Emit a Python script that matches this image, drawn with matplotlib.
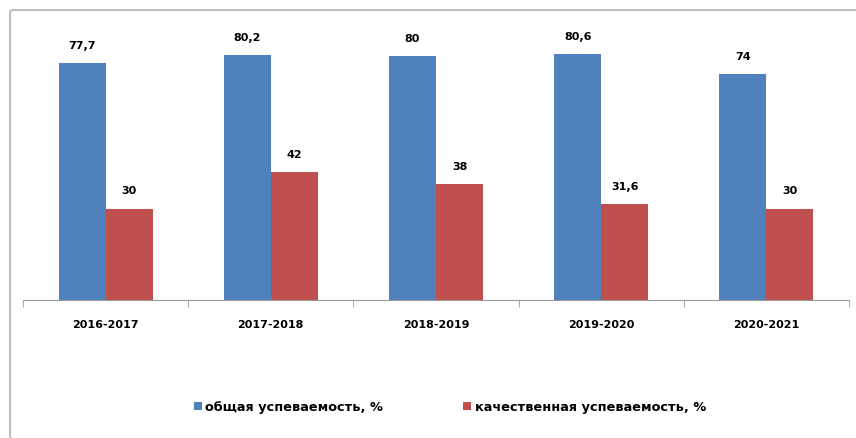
import numpy as np
import matplotlib.pyplot as plt
from matplotlib.patches import FancyBboxPatch

years = ["2016-2017", "2017-2018", "2018-2019", "2019-2020", "2020-2021"]
total = [77.7, 80.2, 80, 80.6, 74]
quality = [30, 42, 38, 31.6, 30]
total_labels = ["77,7", "80,2", "80", "80,6", "74"]
quality_labels = ["30", "42", "38", "31,6", "30"]
series_names = ["общая успеваемость, %", "качественная успеваемость, %"]

blue = "#4f81bd"
red = "#c0504d"

fig = plt.figure(figsize=(8.56, 4.39), dpi=100)
# outer chart frame
frame = FancyBboxPatch((10 / 856, 1 - 440 / 439), 860 / 856, 429 / 439,
                       boxstyle="round,pad=0,rounding_size=0.005",
                       transform=fig.transFigure, fill=False,
                       edgecolor="#bfbfbf", linewidth=1.5)
fig.patches.append(frame)

ax = fig.add_axes([23 / 856, 138 / 439, 826 / 856, 274.5 / 439])
x = np.arange(len(years))
w = 0.285
b1 = ax.bar(x - w / 2, total, w, color=blue, label=series_names[0])
b2 = ax.bar(x + w / 2, quality, w, color=red, label=series_names[1])

for rect, lab in zip(b1, total_labels):
    ax.text(rect.get_x() + rect.get_width() / 2, rect.get_height() + 4.3, lab,
            ha="center", va="bottom", fontsize=8, fontweight="bold")
for rect, lab in zip(b2, quality_labels):
    ax.text(rect.get_x() + rect.get_width() / 2, rect.get_height() + 4.3, lab,
            ha="center", va="bottom", fontsize=8, fontweight="bold")

ax.set_xlim(-0.5, len(years) - 0.5)
ax.set_ylim(0, 90)
ax.set_yticks([])
ax.set_xticks(x)
ax.set_xticklabels(years, fontsize=8, fontweight="bold")
ax.set_xticks(np.arange(-0.5, len(years)), minor=True)
ax.tick_params(axis="x", which="major", length=0, pad=14)
ax.tick_params(axis="x", which="minor", length=5, color="#999999")
for s in ["top", "right", "left"]:
    ax.spines[s].set_visible(False)
ax.spines["bottom"].set_color("#999999")

fig.legend(handles=[b1, b2], loc="center", bbox_to_anchor=(450 / 856, 1 - 408 / 439),
           ncol=2, frameon=False, prop={"weight": "bold", "size": 9.3},
           handlelength=0.6, handleheight=0.6, handletextpad=0.3, columnspacing=6.2)

fig.savefig("out.png", dpi=100)
